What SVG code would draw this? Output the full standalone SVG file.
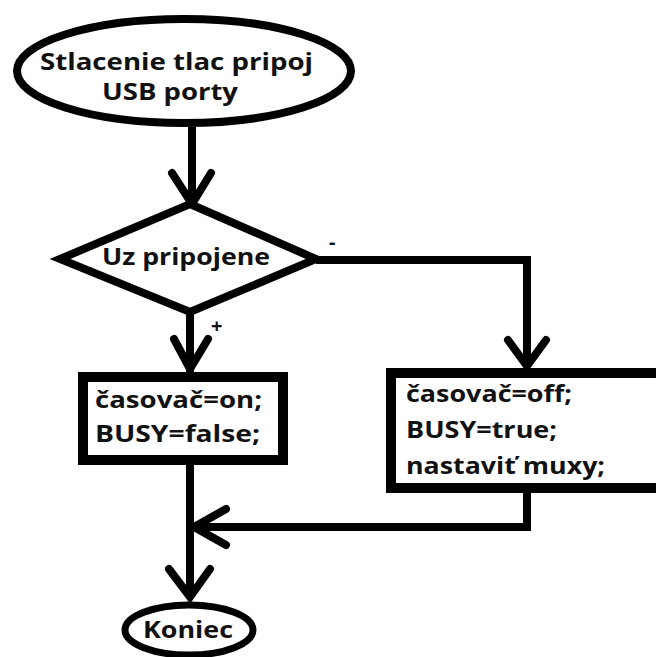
<svg xmlns="http://www.w3.org/2000/svg" width="656" height="657" viewBox="0 0 656 657">
<style>
.shape{fill:#fff;stroke:#000;stroke-width:8}
.box{fill:#fff;stroke:#000;stroke-width:10}
.ln{fill:none;stroke:#000;stroke-width:8;stroke-linejoin:miter}
.ah{fill:none;stroke:#000;stroke-width:8;stroke-linecap:round;stroke-linejoin:miter}
.t{font-family:"Open Sans","Liberation Sans",sans-serif;font-weight:bold;font-size:24px;fill:#111}
.s{font-family:"Open Sans","Liberation Sans",sans-serif;font-weight:bold;font-size:20px;fill:#111}
</style>
<rect width="656" height="657" fill="#fff"/>
<g id="connectors">
<path class="ln" d="M192,127 V204"/>
<path class="ah" d="M172,173 L192,204 L211,173"/>
<path class="ln" d="M316,260 H527 V366"/>
<path class="ah" d="M508,340 L527,366 L546,340"/>
<path class="ln" d="M190,312 V372"/>
<path class="ah" d="M174,339 L190,369 L208,339"/>
<path class="ln" d="M190,465 V598"/>
<path class="ah" d="M169,569 L190,597 L210,569"/>
<path class="ln" d="M527,493 V527 H192"/>
<path class="ah" d="M226,509 L194,527 L226,545"/>
<text class="s" x="329" y="249">-</text>
<text class="s" x="211" y="333">+</text>
</g>
<g id="start">
<ellipse class="shape" cx="184" cy="71" rx="167" ry="52"/>
<text class="t" x="40" y="70" textLength="273" lengthAdjust="spacingAndGlyphs">Stlacenie tlac pripoj</text>
<text class="t" x="102" y="100" textLength="136" lengthAdjust="spacingAndGlyphs">USB porty</text>
</g>
<g id="decision">
<polygon class="shape" points="190,204 316,259 190,312 60,259"/>
<text class="t" x="102" y="265" textLength="168" lengthAdjust="spacingAndGlyphs">Uz pripojene</text>
</g>
<g id="yes">
<rect class="box" x="83" y="377" width="200" height="83"/>
<text class="t" x="95" y="408" textLength="167" lengthAdjust="spacingAndGlyphs">časovač=on;</text>
<text class="t" x="95" y="442" textLength="165" lengthAdjust="spacingAndGlyphs">BUSY=false;</text>
</g>
<g id="no">
<rect class="box" x="391" y="373" width="300" height="115"/>
<text class="t" x="406" y="402" textLength="166" lengthAdjust="spacingAndGlyphs">časovač=off;</text>
<text class="t" x="406" y="438" textLength="151" lengthAdjust="spacingAndGlyphs">BUSY=true;</text>
<text class="t" x="406" y="474" textLength="199" lengthAdjust="spacingAndGlyphs">nastaviť muxy;</text>
</g>
<g id="end">
<ellipse class="shape" cx="189" cy="630" rx="64" ry="25" style="stroke-width:7"/>
<text class="t" x="143" y="638" textLength="90" lengthAdjust="spacingAndGlyphs">Koniec</text>
</g>
</svg>
